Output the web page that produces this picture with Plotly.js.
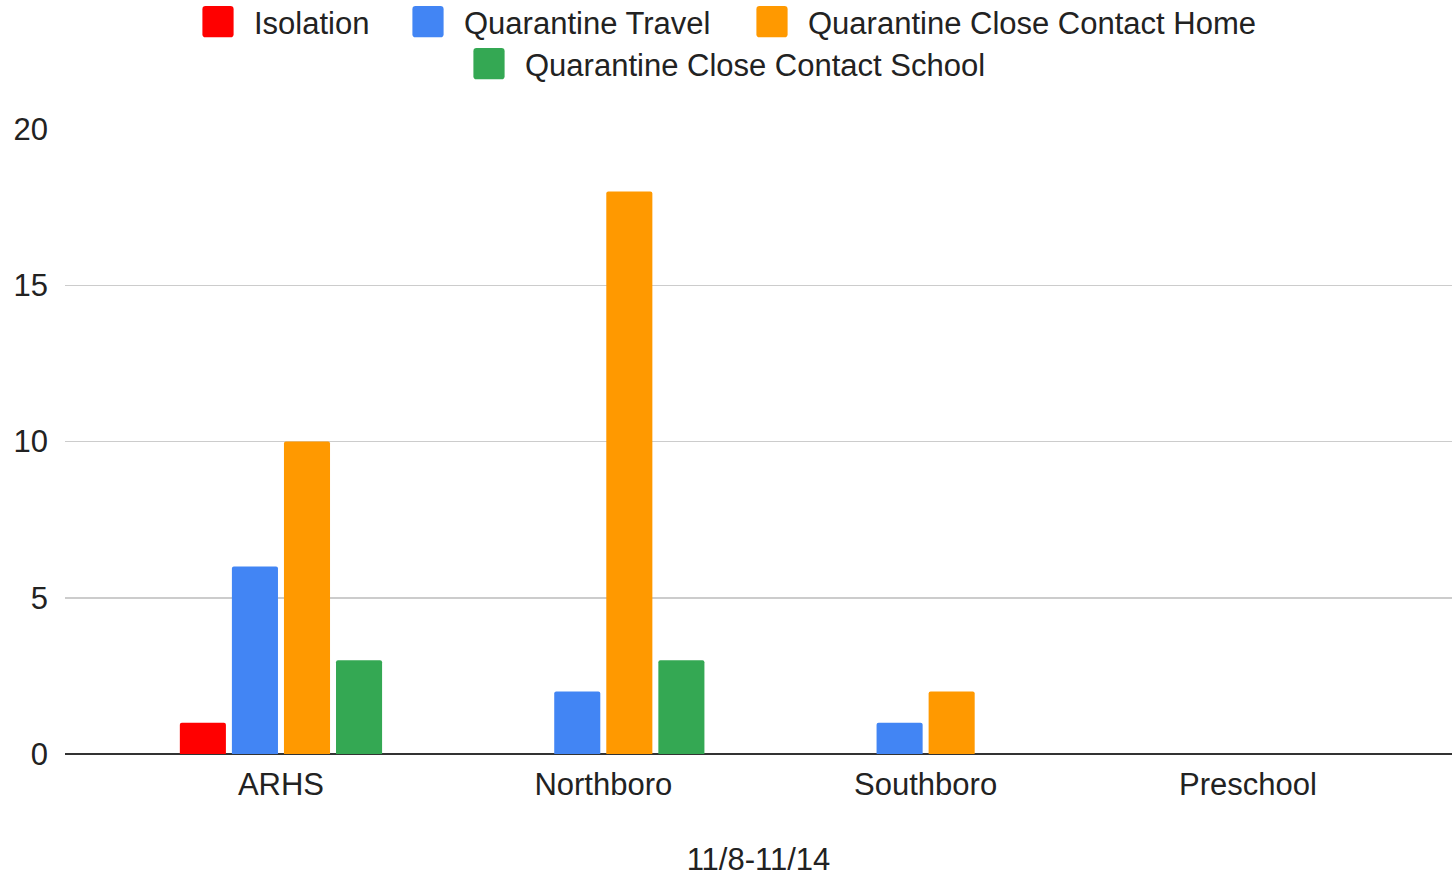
<!DOCTYPE html>
<html>
<head>
<meta charset="utf-8">
<script src="https://cdn.plot.ly/plotly-3.0.1.min.js"></script>
<style>html,body{margin:0;padding:0;background:#fff;}#chart{width:1452px;height:877px;}</style>
</head>
<body>
<div id="chart"></div>
<script>
const categories = ["ARHS", "Northboro", "Southboro", "Preschool"];
const isolation = [1, 0, 0, 0];
const quarantineTravel = [6, 2, 1, 0];
const closeContactHome = [10, 18, 2, 0];
const closeContactSchool = [3, 3, 0, 0];
const seriesNames = ["Isolation", "Quarantine Travel", "Quarantine Close Contact Home", "Quarantine Close Contact School"];
const seriesColors = ["#ff0000", "#4285f4", "#ff9900", "#34a853"];
const yTicks = [0, 5, 10, 15, 20];
const xTitle = "11/8-11/14";

const legendIds = ["legend", "legend2", "legend3", "legend4"];
const seriesValues = [isolation, quarantineTravel, closeContactHome, closeContactSchool];
const traces = seriesValues.map((vals, i) => ({
  type: "bar",
  name: seriesNames[i],
  x: categories,
  y: vals,
  marker: {color: seriesColors[i]},
  legend: legendIds[i],
  hoverinfo: "x+y+name"
}));

const font = {family: "Liberation Sans, Arial, sans-serif", size: 31, color: "#222"};
const legendBase = {
  orientation: "h",
  xref: "container", yref: "container",
  xanchor: "left", yanchor: "middle",
  font: font,
  itemwidth: 62,
  bgcolor: "rgba(0,0,0,0)"
};
// legend entry anchor positions (px in the 1452x877 frame)
const legendPos = [[182, 22], [392, 22], [736, 22], [453, 64]];

const layout = {
  width: 1452, height: 877,
  margin: {l: 65, r: 0, t: 129, b: 123},
  paper_bgcolor: "#fff", plot_bgcolor: "#fff",
  font: font,
  barmode: "group",
  bargap: 0.354,
  bargroupgap: 0.115,
  barcornerradius: 2,
  showlegend: true,
  xaxis: {
    type: "category",
    range: [-0.670, 3.633],
    showgrid: false,
    zeroline: false,
    showline: false,
    ticks: "",
    tickfont: font,
    ticklabelstandoff: 9,
    automargin: false,
    title: {text: xTitle, font: font, standoff: 62}
  },
  yaxis: {
    range: [0, 20],
    tickvals: yTicks,
    ticktext: yTicks.map(String),
    showgrid: true,
    gridcolor: "#cccccc",
    gridwidth: 1.5,
    zeroline: true,
    zerolinecolor: "#333333",
    zerolinewidth: 2,
    showline: false,
    ticks: "",
    tickfont: font,
    ticklabelstandoff: 16
  }
};
legendIds.forEach((id, i) => {
  layout[id] = Object.assign({}, legendBase, {x: legendPos[i][0] / 1452, y: 1 - legendPos[i][1] / 877});
});

const squareSymbol = "M4.8,-6H-4.8A1.2,1.2 0 0 0 -6,-4.8V4.8A1.2,1.2 0 0 0 -4.8,6H4.8A1.2,1.2 0 0 0 6,4.8V-4.8A1.2,1.2 0 0 0 4.8,-6Z";
Plotly.newPlot("chart", traces, layout, {displayModeBar: false, staticPlot: true}).then(() => {
  document.querySelectorAll(".legendpoints path").forEach(p => {
    const t = p.getAttribute("transform") || "";
    p.setAttribute("d", squareSymbol);
    p.setAttribute("transform", t + " scale(2.6)");
  });
});
</script>
</body>
</html>
